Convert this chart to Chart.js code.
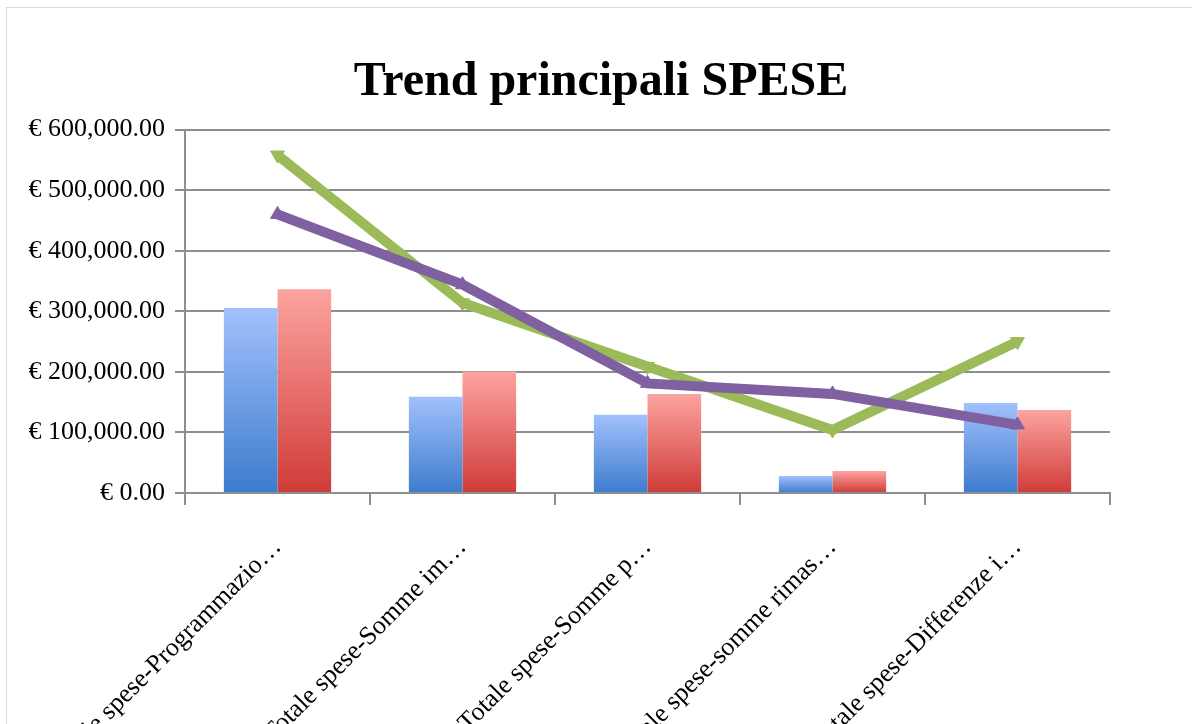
<!DOCTYPE html>
<html><head><meta charset="utf-8">
<script src="https://cdn.jsdelivr.net/npm/chart.js@4.4.0/dist/chart.umd.min.js"></script>
<style>
html,body{margin:0;padding:0;background:#fff;overflow:hidden;}
#wrap{position:relative;width:1192px;height:724px;overflow:hidden;}
#frame{position:absolute;left:6px;top:7px;width:1300px;height:900px;border:1px solid #d9d9d9;pointer-events:none;}
canvas{position:absolute;left:0;top:0;}
</style></head><body>
<div id="wrap"><canvas id="c" width="1192" height="724"></canvas><div id="frame"></div></div>
<script>
const categories = [
  "Totale spese-Programmazio…",
  "Totale spese-Somme im…",
  "Totale spese-Somme p…",
  "Totale spese-somme rimas…",
  "Totale spese-Differenze i…"
];
const barBlue   = [305500, 159000, 129000, 28000, 148500];
const barRed    = [336600, 200500, 163600, 36400, 137200];
const lineGreen = [558000, 314000, 209000, 104000, 250000];
const linePurple= [460000, 344000, 181000, 163600, 112400];
const yTickValues = [0, 100000, 200000, 300000, 400000, 500000, 600000];

function fmtEuro(v){
  return "€ " + Number(v).toLocaleString("en-US",{minimumFractionDigits:2, maximumFractionDigits:2});
}
function grad(top, bottom){
  return function(ctx){
    const chart = ctx.chart;
    const area = chart.chartArea;
    if(!area || !ctx.parsed) return bottom;
    const y = chart.scales.y.getPixelForValue(ctx.parsed.y);
    const g = chart.ctx.createLinearGradient(0, y, 0, area.bottom);
    g.addColorStop(0, top);
    g.addColorStop(1, bottom);
    return g;
  };
}
const FONT = "'Liberation Serif', 'Times New Roman', serif";
const GRID = "#8e8e8e";

new Chart(document.getElementById("c"), {
  type: "bar",
  data: {
    labels: categories,
    datasets: [
      { type:"line", label:"Serie 4", data: linePurple, order:0,
        borderColor:"#7f60a0", backgroundColor:"#7f60a0", borderWidth:10,
        pointStyle:"triangle", pointRadius:8, pointBorderWidth:1,
        pointBackgroundColor:"#7f60a0", pointBorderColor:"#7f60a0",
        tension:0, fill:false },
      { type:"line", label:"Serie 3", data: lineGreen, order:1,
        borderColor:"#9bbb59", backgroundColor:"#9bbb59", borderWidth:10,
        pointStyle:"triangle", pointRotation:180, pointRadius:8, pointBorderWidth:1,
        pointBackgroundColor:"#9bbb59", pointBorderColor:"#9bbb59",
        tension:0, fill:false },
      { label:"Serie 1", data: barBlue, order:2,
        backgroundColor: grad("#a2c0fc", "#3d7ccd"),
        categoryPercentage:0.58, barPercentage:1.0 },
      { label:"Serie 2", data: barRed, order:3,
        backgroundColor: grad("#fda4a0", "#cf3b38"),
        categoryPercentage:0.58, barPercentage:1.0 }
    ]
  },
  options: {
    responsive:false,
    animation:false,
    layout:{ padding:{ left:10, right:0, top:0, bottom:0 } },
    plugins:{
      legend:{ display:false },
      tooltip:{ enabled:false },
      title:{ display:true, text:"Trend principali SPESE", color:"#000",
        font:{ family:FONT, size:48, weight:"bold" },
        padding:{ top:54, bottom:18 } }
    },
    scales:{
      x:{
        grid:{ display:true, drawOnChartArea:false, drawTicks:true, tickLength:12, color:GRID, lineWidth:2, offset:true },
        border:{ display:true, color:GRID, width:2 },
        ticks:{ color:"#000", font:{ family:FONT, size:26 }, minRotation:45, maxRotation:45, autoSkip:false, padding:27 },
        afterFit:function(s){ s.height = 231; }
      },
      y:{
        min:0, max:600000,
        afterBuildTicks:function(s){ s.ticks = yTickValues.map(v=>({value:v})); },
        grid:{ color:GRID, lineWidth:2, tickLength:10 },
        border:{ display:true, color:GRID, width:2 },
        ticks:{ color:"#000", font:{ family:FONT, size:26 }, padding:10, callback:function(v){ return fmtEuro(v); } },
        afterFit:function(s){ s.width = 175; }
      },
      yRight:{
        position:"right", display:true,
        grid:{ display:false, drawTicks:false },
        border:{ display:false },
        ticks:{ display:false },
        afterFit:function(s){ s.width = 82; }
      }
    }
  }
});
</script>
</body></html>
